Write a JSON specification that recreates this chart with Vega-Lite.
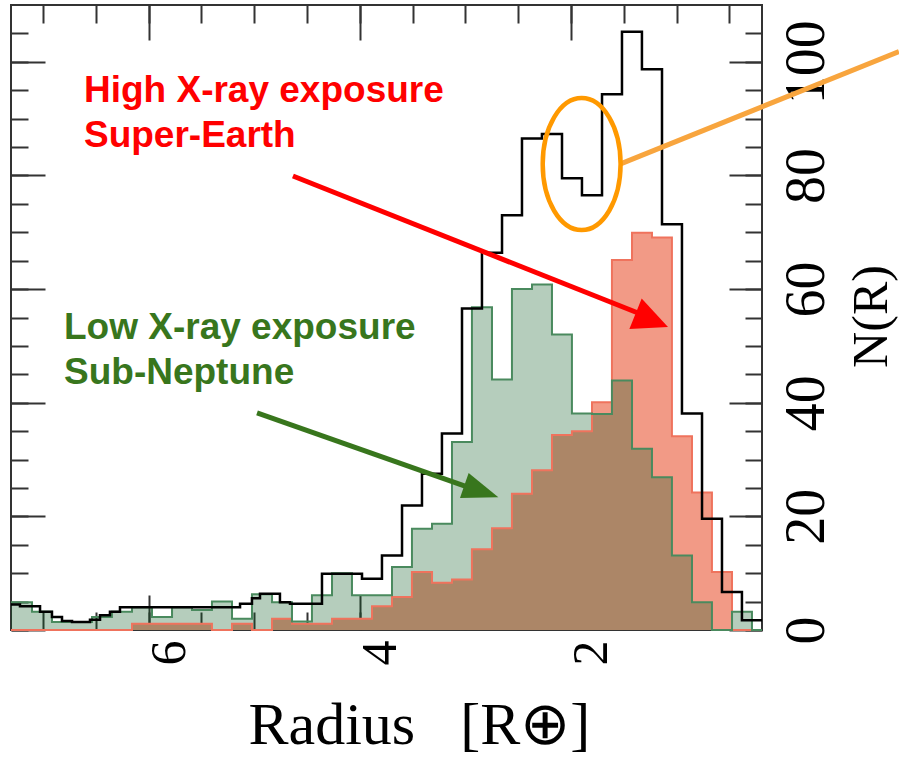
{
  "$schema": "https://vega.github.io/schema/vega-lite/v6.json",
  "width": 751,
  "height": 625,
  "autosize": {"type": "none"},
  "padding": {"left": 11, "top": 5, "right": 137, "bottom": 129},
  "background": "white",
  "config": {
    "view": {"stroke": "#333333", "strokeWidth": 2},
    "axis": {"domain": false, "grid": false, "tickColor": "#333333", "tickWidth": 2, "labelColor": "#000000", "titleColor": "#000000", "titleFontWeight": "normal", "labelFont": "Liberation Serif", "titleFont": "Liberation Serif", "labelOverlap": false, "labelFlush": false}
  },
  "datasets": {
    "black": [{"r":0.191,"n":1.7},{"r":0.381,"n":6.7},{"r":0.570,"n":19.6},{"r":0.759,"n":38.1},{"r":0.949,"n":71.4},{"r":1.138,"n":98.7},{"r":1.328,"n":105.3},{"r":1.517,"n":94.3},{"r":1.706,"n":76.5},{"r":1.896,"n":79.5},{"r":2.085,"n":87.3},{"r":2.275,"n":86.5},{"r":2.464,"n":73.0},{"r":2.653,"n":66.4},{"r":2.843,"n":56.6},{"r":3.032,"n":34.6},{"r":3.222,"n":27.5},{"r":3.411,"n":21.9},{"r":3.600,"n":13.1},{"r":3.790,"n":9.0},{"r":3.979,"n":9.9},{"r":4.358,"n":4.6},{"r":4.661,"n":4.9},{"r":4.756,"n":6.4},{"r":4.945,"n":5.6},{"r":5.021,"n":4.6},{"r":5.134,"n":4.0},{"r":6.271,"n":3.2},{"r":6.366,"n":2.6},{"r":6.460,"n":1.8},{"r":6.555,"n":1.4},{"r":6.725,"n":1.6},{"r":6.820,"n":2.3},{"r":6.915,"n":3.2},{"r":7.028,"n":4.2},{"r":7.218,"n":4.5},{"r":7.303,"n":4.5}],
    "red": [{"r":0.191,"n":0},{"r":0.286,"n":0},{"r":0.475,"n":10.2},{"r":0.665,"n":24.2},{"r":0.854,"n":34.1},{"r":1.044,"n":69.1},{"r":1.233,"n":69.9},{"r":1.422,"n":65.1},{"r":1.612,"n":40.1},{"r":1.801,"n":35.0},{"r":1.991,"n":34.3},{"r":2.180,"n":28.1},{"r":2.369,"n":24.0},{"r":2.559,"n":17.9},{"r":2.748,"n":14.2},{"r":2.938,"n":8.9},{"r":3.127,"n":8.3},{"r":3.316,"n":10.2},{"r":3.506,"n":5.8},{"r":3.695,"n":4.2},{"r":3.884,"n":2.0},{"r":4.074,"n":2.0},{"r":4.263,"n":1.1},{"r":4.453,"n":1.1},{"r":4.642,"n":2.0},{"r":4.831,"n":0},{"r":5.021,"n":1.1},{"r":5.210,"n":0},{"r":5.400,"n":1.1},{"r":5.589,"n":1.1},{"r":5.778,"n":1.1},{"r":5.968,"n":1.1},{"r":6.157,"n":0},{"r":7.303,"n":0}],
    "green": [{"r":0.191,"n":0},{"r":0.286,"n":3.2},{"r":0.475,"n":0},{"r":0.665,"n":4.9},{"r":0.854,"n":13.1},{"r":1.044,"n":26.9},{"r":1.233,"n":31.9},{"r":1.422,"n":43.9},{"r":1.612,"n":38.0},{"r":1.801,"n":38.1},{"r":1.991,"n":52.0},{"r":2.180,"n":60.8},{"r":2.369,"n":60.0},{"r":2.559,"n":44.1},{"r":2.748,"n":56.8},{"r":2.938,"n":33.1},{"r":3.127,"n":18.7},{"r":3.316,"n":17.8},{"r":3.506,"n":11.1},{"r":3.695,"n":6.1},{"r":3.884,"n":6.1},{"r":4.074,"n":10.0},{"r":4.263,"n":6.1},{"r":4.453,"n":1.5},{"r":4.642,"n":4.9},{"r":4.831,"n":6.3},{"r":5.021,"n":2.0},{"r":5.210,"n":5.0},{"r":5.400,"n":3.5},{"r":5.589,"n":4.0},{"r":5.778,"n":2.3},{"r":5.968,"n":4.0},{"r":6.157,"n":3.2},{"r":6.347,"n":2.3},{"r":6.536,"n":1.4},{"r":6.725,"n":1.4},{"r":6.915,"n":3.2},{"r":7.104,"n":4.9},{"r":7.303,"n":4.9}]
  },
  "resolve": {"axis": {"x": "independent", "y": "independent"}},
  "layer": [
    {
      "data": {"name": "red"},
      "mark": {"type": "area", "interpolate": "step-before", "color": "#f29a86", "opacity": 1},
      "encoding": {
        "x": {"field": "r", "type": "quantitative", "scale": {"domain": [0.191, 7.303], "reverse": true, "nice": false, "zero": false},
          "axis": {"orient": "bottom", "values": [2, 4, 6], "ticks": false, "tickSize": 0, "labelAngle": 270, "labelAlign": "right", "labelBaseline": "alphabetic", "labelOffset": 36, "labelPadding": 10, "labelFontSize": 50, "title": "Radius\u2002 [R⊕]", "titleFontSize": 60, "titleX": 237, "titleY": 113, "titleAlign": "left", "titleBaseline": "alphabetic"}},
        "y": {"field": "n", "type": "quantitative", "scale": {"domain": [0, 110], "nice": false, "zero": false},
          "axis": {"orient": "right", "values": [0, 20, 40, 60, 80, 100], "ticks": false, "tickSize": 0, "labelAngle": 270, "labelAlign": "center", "labelBaseline": "alphabetic", "labelPadding": 61, "labelFontSize": 56, "title": "N(R)", "titleFontSize": 50, "titleAngle": 270, "titleX": 124, "titleY": 311, "titleAlign": "center", "titleBaseline": "alphabetic"}}
      }
    },
    {
      "data": {"name": "green"},
      "mark": {"type": "area", "interpolate": "step-before", "color": "#0a5a20", "opacity": 0.3},
      "encoding": {
        "x": {"field": "r", "type": "quantitative", "scale": {"domain": [0.191, 7.303], "reverse": true, "nice": false, "zero": false},
          "axis": {"orient": "bottom", "values": [2, 4, 6], "tickSize": -35, "labels": false, "title": null}},
        "y": {"field": "n", "type": "quantitative", "scale": {"domain": [0, 110], "nice": false, "zero": false},
          "axis": {"orient": "right", "values": [0, 20, 40, 60, 80, 100], "tickSize": -33, "labels": false, "title": null}}
      }
    },
    {
      "data": {"name": "red"},
      "mark": {"type": "line", "interpolate": "step-before", "color": "#ef735d", "strokeWidth": 2},
      "encoding": {
        "x": {"field": "r", "type": "quantitative", "scale": {"domain": [0.191, 7.303], "reverse": true, "nice": false, "zero": false},
          "axis": {"orient": "bottom", "values": [0.5, 1, 1.5, 2, 2.5, 3, 3.5, 4, 4.5, 5, 5.5, 6, 6.5, 7], "tickSize": -18, "labels": false, "title": null}},
        "y": {"field": "n", "type": "quantitative", "scale": {"domain": [0, 110], "nice": false, "zero": false},
          "axis": {"orient": "right", "values": [0, 5, 10, 15, 20, 25, 30, 35, 40, 45, 50, 55, 60, 65, 70, 75, 80, 85, 90, 95, 100, 105], "tickSize": -17, "labels": false, "title": null}}
      }
    },
    {
      "data": {"name": "green"},
      "mark": {"type": "line", "interpolate": "step-before", "color": "#4a8a5e", "strokeWidth": 2},
      "encoding": {
        "x": {"field": "r", "type": "quantitative", "scale": {"domain": [0.191, 7.303], "reverse": true, "nice": false, "zero": false},
          "axis": {"orient": "top", "values": [2, 4, 6], "tickSize": -35, "labels": false, "title": null}},
        "y": {"field": "n", "type": "quantitative", "scale": {"domain": [0, 110], "nice": false, "zero": false},
          "axis": {"orient": "left", "values": [0, 20, 40, 60, 80, 100], "tickSize": -34, "labels": false, "title": null}}
      }
    },
    {
      "data": {"name": "black"},
      "mark": {"type": "line", "interpolate": "step-before", "color": "#000000", "strokeWidth": 2.5},
      "encoding": {
        "x": {"field": "r", "type": "quantitative", "scale": {"domain": [0.191, 7.303], "reverse": true, "nice": false, "zero": false},
          "axis": {"orient": "top", "values": [0.5, 1, 1.5, 2, 2.5, 3, 3.5, 4, 4.5, 5, 5.5, 6, 6.5, 7], "tickSize": -18, "labels": false, "title": null}},
        "y": {"field": "n", "type": "quantitative", "scale": {"domain": [0, 110], "nice": false, "zero": false},
          "axis": {"orient": "left", "values": [0, 5, 10, 15, 20, 25, 30, 35, 40, 45, 50, 55, 60, 65, 70, 75, 80, 85, 90, 95, 100, 105], "tickSize": -17, "labels": false, "title": null}}
      }
    },
    {
      "data": {"values": [
        {"r1": 4.633, "n1": 79.9, "r2": 1.299, "n2": 55.3, "g": "red"},
        {"r1": 4.973, "n1": 38.2, "r2": 2.956, "n2": 25.0, "g": "green"},
        {"r1": 1.536, "n1": 82.0, "r2": -1.106, "n2": 101.8, "g": "orange"}
      ]},
      "mark": {"type": "rule", "strokeWidth": 5},
      "encoding": {
        "x": {"field": "r1", "type": "quantitative", "axis": null, "scale": {"domain": [0.191, 7.303], "reverse": true, "nice": false, "zero": false}},
        "x2": {"field": "r2"},
        "y": {"field": "n1", "type": "quantitative", "axis": null, "scale": {"domain": [0, 110], "nice": false, "zero": false}},
        "y2": {"field": "n2"},
        "color": {"field": "g", "type": "nominal", "legend": null, "scale": {"domain": ["red", "green", "orange"], "range": ["#ff0000", "#38761d", "#f8a53e"]}}
      }
    },
    {
      "data": {"values": [{"r": 1.235, "n": 54.5}]},
      "mark": {"type": "point", "shape": "M1,0L-1,-0.94L-1,0.94Z", "size": 1225, "angle": 22, "filled": true, "color": "#ff0000", "opacity": 1, "strokeWidth": 0},
      "encoding": {
        "x": {"field": "r", "type": "quantitative", "axis": null, "scale": {"domain": [0.191, 7.303], "reverse": true, "nice": false, "zero": false}},
        "y": {"field": "n", "type": "quantitative", "axis": null, "scale": {"domain": [0, 110], "nice": false, "zero": false}}
      }
    },
    {
      "data": {"values": [{"r": 2.849, "n": 24.4}]},
      "mark": {"type": "point", "shape": "M1,0L-1,-0.74L-1,0.74Z", "size": 1296, "angle": 19, "filled": true, "color": "#38761d", "opacity": 1, "strokeWidth": 0},
      "encoding": {
        "x": {"field": "r", "type": "quantitative", "axis": null, "scale": {"domain": [0.191, 7.303], "reverse": true, "nice": false, "zero": false}},
        "y": {"field": "n", "type": "quantitative", "axis": null, "scale": {"domain": [0, 110], "nice": false, "zero": false}}
      }
    },
    {
      "data": {"values": [{"r": 1.899, "n": 82.0}]},
      "mark": {"type": "point", "shape": "M0,-1A0.59,1,0,1,1,0,1A0.59,1,0,1,1,0,-1Z", "size": 17424, "filled": false, "stroke": "#ff9900", "strokeWidth": 4.5, "opacity": 1},
      "encoding": {
        "x": {"field": "r", "type": "quantitative", "axis": null, "scale": {"domain": [0.191, 7.303], "reverse": true, "nice": false, "zero": false}},
        "y": {"field": "n", "type": "quantitative", "axis": null, "scale": {"domain": [0, 110], "nice": false, "zero": false}}
      }
    },
    {
      "data": {"values": [
        {"r": 6.612, "n": 92.9, "t": "High X-ray exposure", "g": "red"},
        {"r": 6.612, "n": 85.0, "t": "Super-Earth", "g": "red"},
        {"r": 6.801, "n": 51.2, "t": "Low X-ray exposure", "g": "green"},
        {"r": 6.801, "n": 43.3, "t": "Sub-Neptune", "g": "green"}
      ]},
      "mark": {"type": "text", "align": "left", "baseline": "alphabetic", "font": "Liberation Sans", "fontWeight": "bold", "fontSize": 37},
      "encoding": {
        "x": {"field": "r", "type": "quantitative", "axis": null, "scale": {"domain": [0.191, 7.303], "reverse": true, "nice": false, "zero": false}},
        "y": {"field": "n", "type": "quantitative", "axis": null, "scale": {"domain": [0, 110], "nice": false, "zero": false}},
        "text": {"field": "t"},
        "color": {"field": "g", "type": "nominal", "legend": null, "scale": {"domain": ["red", "green", "orange"], "range": ["#ff0000", "#38761d", "#f8a53e"]}}
      }
    }
  ]
}
